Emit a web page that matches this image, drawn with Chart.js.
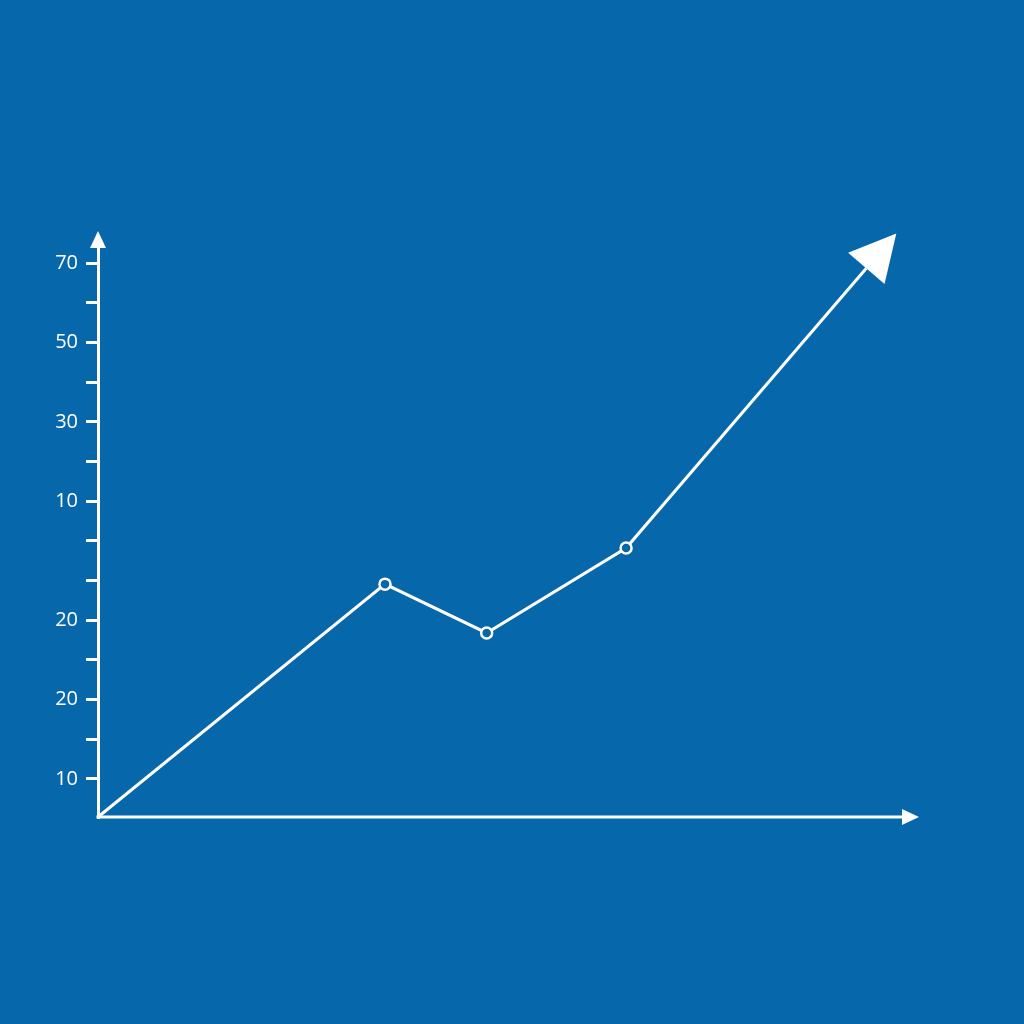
<!DOCTYPE html>
<html>
<head>
<meta charset="utf-8">
<script src="https://cdn.jsdelivr.net/npm/chart.js@4"></script>
<style>
  html, body { margin: 0; padding: 0; background: #0767ab; }
  #wrap { width: 1024px; height: 1024px; }
</style>
</head>
<body>
<div id="wrap"><canvas id="chart"></canvas></div>
<script>
// Data (y in tick steps, x in tenths of the axis)
const xValues = [0, 3.5, 4.74, 6.44, 9.37];
const yValues = [0.04, 5.91, 4.68, 6.82, 13.87];
const pointSizes = [0, 5.5, 5.5, 5.5, 0];
// labels for tick steps 0..14 (as printed on the original)
const yTickLabels = ['', '10', '', '20', '', '20', '', '', '10', '', '30', '', '50', '', '70'];

const BG = '#0767ab';
const WHITE = '#ffffff';

// background + axis arrows + arrow head on the series
const arrows = {
  id: 'arrows',
  beforeDraw(chart) {
    const ctx = chart.ctx;
    ctx.save();
    ctx.fillStyle = BG;
    ctx.fillRect(0, 0, chart.width, chart.height);
    ctx.restore();
  },
  afterDraw(chart) {
    const ctx = chart.ctx;
    const a = chart.chartArea;
    ctx.save();
    ctx.fillStyle = WHITE;
    ctx.strokeStyle = WHITE;
    ctx.lineWidth = 3;

    // x axis
    ctx.beginPath();
    ctx.moveTo(a.left - 1.5, a.bottom);
    ctx.lineTo(a.right - 10, a.bottom);
    ctx.stroke();
    ctx.beginPath();
    ctx.moveTo(a.right + 1, a.bottom);
    ctx.lineTo(a.right - 16, a.bottom - 8);
    ctx.lineTo(a.right - 16, a.bottom + 8);
    ctx.closePath();
    ctx.fill();

    // y axis arrow
    ctx.beginPath();
    ctx.moveTo(a.left, a.top - 6);
    ctx.lineTo(a.left - 8, a.top + 11);
    ctx.lineTo(a.left + 8, a.top + 11);
    ctx.closePath();
    ctx.fill();

    // arrow head at end of series
    const pts = chart.getDatasetMeta(0).data;
    const p1 = pts[pts.length - 2], p2 = pts[pts.length - 1];
    const dx = p2.x - p1.x, dy = p2.y - p1.y;
    const len = Math.hypot(dx, dy);
    const ux = dx / len, uy = dy / len;
    const head = 46, half = 24;
    ctx.beginPath();
    ctx.moveTo(p2.x + ux * head, p2.y + uy * head);
    ctx.lineTo(p2.x - uy * half, p2.y + ux * half);
    ctx.lineTo(p2.x + uy * half, p2.y - ux * half);
    ctx.closePath();
    ctx.fill();
    ctx.restore();
  }
};

new Chart(document.getElementById('chart'), {
  type: 'line',
  data: {
    datasets: [{
      data: xValues.map((x, i) => ({ x: x, y: yValues[i] })),
      borderColor: WHITE,
      borderWidth: 3,
      pointRadius: pointSizes,
      pointBackgroundColor: BG,
      pointBorderColor: WHITE,
      pointBorderWidth: 2.5,
      tension: 0,
      clip: false
    }]
  },
  options: {
    responsive: true,
    maintainAspectRatio: false,
    animation: false,
    layout: { padding: { left: 0, right: 106, top: 237, bottom: 207 } },
    plugins: { legend: { display: false }, tooltip: { enabled: false } },
    scales: {
      x: { type: 'linear', min: 0, max: 10, display: false },
      y: {
        type: 'linear',
        min: 0.04,
        max: 14.66,
        afterBuildTicks: (scale) => {
          scale.ticks = scale.ticks.filter(t => Number.isInteger(t.value) && t.value >= 1 && t.value <= 14);
        },
        afterFit: (scale) => { scale.width = 98; },
        ticks: {
          stepSize: 1,
          color: WHITE,
          padding: 8,
          font: { family: 'Open Sans', size: 20 },
          callback: (v) => yTickLabels[v] || ''
        },
        grid: {
          drawOnChartArea: false,
          drawTicks: true,
          tickLength: 12,
          color: WHITE,
          lineWidth: 3
        },
        border: { display: true, color: WHITE, width: 3 }
      }
    }
  },
  plugins: [arrows]
});
</script>
</body>
</html>
